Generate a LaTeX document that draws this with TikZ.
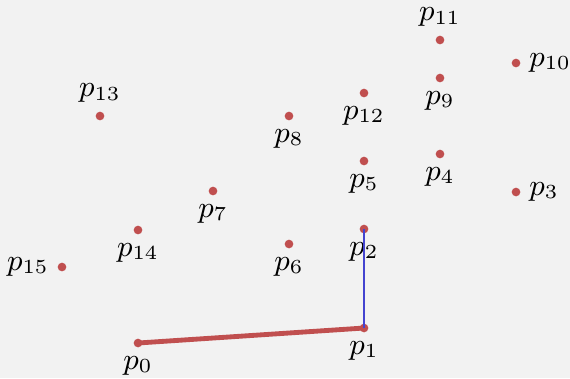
\documentclass[tikz,border=0pt]{standalone}
\definecolor{bg}{HTML}{F2F2F2}
\definecolor{ptred}{HTML}{C04F4F}
\definecolor{segblue}{HTML}{4444D0}
\begin{document}
\begin{tikzpicture}[x=0.3pt,y=-0.3pt,
  dot/.style={circle,fill=ptred,inner sep=0pt,minimum size=2.6pt},
  every label/.style={inner sep=2.3pt,font=\fontsize{9.2}{11}\selectfont},
  hull/.style={ptred,line width=1.45pt,line cap=round},
  probe/.style={segblue,line width=0.35pt}]
\fill[bg] (0,0) rectangle (570,378);
\useasboundingbox (0,0) rectangle (570,378);
\node[dot,label=below:$p_{0}$] (p0) at (138,343) {};
\node[dot,label=below:$p_{1}$] (p1) at (364,328) {};
\node[dot,label=below:$p_{2}$] (p2) at (364,229) {};
\node[dot,label=right:$p_{3}$] (p3) at (516,192) {};
\node[dot,label=below:$p_{4}$] (p4) at (440,154) {};
\node[dot,label=below:$p_{5}$] (p5) at (364,161) {};
\node[dot,label=below:$p_{6}$] (p6) at (289,244) {};
\node[dot,label=below:$p_{7}$] (p7) at (213,191) {};
\node[dot,label=below:$p_{8}$] (p8) at (289,116) {};
\node[dot,label=below:$p_{9}$] (p9) at (440,78) {};
\node[dot,label=right:$p_{10}$] (p10) at (516,63) {};
\node[dot,label=above:$p_{11}$] (p11) at (440,40) {};
\node[dot,label=below:$p_{12}$] (p12) at (364,93) {};
\node[dot,label=above:$p_{13}$] (p13) at (100,116) {};
\node[dot,label=below:$p_{14}$] (p14) at (138,230) {};
\node[dot,label=left:$p_{15}$] (p15) at (62,267) {};
\draw[hull] (p0.center) -- (p1.center);
\draw[probe] (p1.center) -- (p2.center);
\end{tikzpicture}
\end{document}
